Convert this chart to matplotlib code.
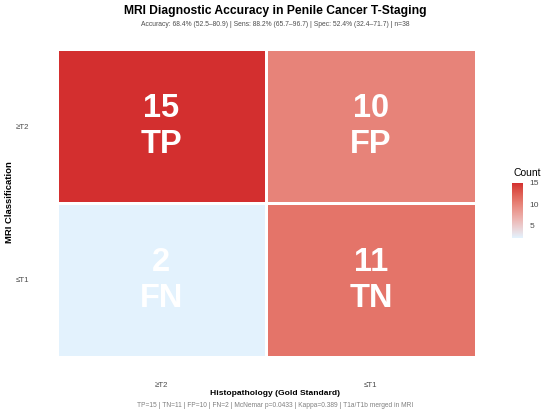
import numpy as np
import matplotlib
matplotlib.use('Agg')
import matplotlib.pyplot as plt
from matplotlib.colors import ListedColormap, Normalize

plt.rcParams['font.family'] = ['Liberation Sans', 'DejaVu Sans']

# confusion matrix data
mri_levels = ['≥T2', '≤T1']          # rows (top to bottom)
histo_levels = ['≥T2', '≤T1']        # columns
counts = [[15, 10],
          [2, 11]]
cell_tags = [['TP', 'FP'],
             ['FN', 'TN']]
title = 'MRI Diagnostic Accuracy in Penile Cancer T-Staging'
subtitle = 'Accuracy: 68.4% (52.5\u201380.9) | Sens: 88.2% (65.7\u201396.7) | Spec: 52.4% (32.4\u201371.7) | n=38'
caption = 'TP=15 | TN=11 | FP=10 | FN=2 | McNemar p=0.0433 | Kappa=0.389 | T1a/T1b merged in MRI'


# gradient low -> high interpolated in Lab, like ggplot's scale_fill_gradient
def hex2rgb(h):
	h = h.lstrip('#')
	return np.array([int(h[i:i+2], 16) / 255.0 for i in (0, 2, 4)])

M = np.array([[0.4124, 0.3576, 0.1805],
              [0.2126, 0.7152, 0.0722],
              [0.0193, 0.1192, 0.9505]])
WHITE = np.array([0.95047, 1.0, 1.08883])

def rgb2lab(c):
	lin = np.where(c <= 0.04045, c / 12.92, ((c + 0.055) / 1.055) ** 2.4)
	xyz = M.dot(lin) / WHITE
	f = np.where(xyz > 0.008856, np.cbrt(xyz), 7.787 * xyz + 16 / 116.0)
	return np.array([116 * f[1] - 16, 500 * (f[0] - f[1]), 200 * (f[1] - f[2])])

def lab2rgb(lab):
	fy = (lab[0] + 16) / 116.0
	fx = fy + lab[1] / 500.0
	fz = fy - lab[2] / 200.0
	f = np.array([fx, fy, fz])
	xyz = np.where(f > 0.206893, f ** 3, (f - 16 / 116.0) / 7.787) * WHITE
	lin = np.linalg.solve(M, xyz)
	c = np.where(lin <= 0.0031308, 12.92 * lin, 1.055 * np.clip(lin, 0, None) ** (1 / 2.4) - 0.055)
	return np.clip(c, 0, 1)

lo = rgb2lab(hex2rgb('#E3F2FD'))
hi = rgb2lab(hex2rgb('#D32F2F'))
cmap = ListedColormap([lab2rgb(lo + t * (hi - lo)) for t in np.linspace(0, 1, 256)])
vals = np.array(counts)
norm = Normalize(vmin=vals.min(), vmax=vals.max())

fig = plt.figure(figsize=(5.5, 4.13), dpi=100)
ax = fig.add_axes([0.103, 0.1363, 0.762, 0.7443])

ax.pcolormesh(np.arange(3), np.arange(3), vals, cmap=cmap, norm=norm,
	edgecolors='white', linewidth=2)
ax.set_xlim(0, 2)
ax.set_ylim(2, 0)
for i in range(2):
	for j in range(2):
		ax.text(j + 0.5, i + 0.5 - 0.112, str(counts[i][j]), ha='center', va='center',
			color='white', fontsize=23.5, fontweight='bold')
		ax.text(j + 0.5, i + 0.5 + 0.12, cell_tags[i][j], ha='center', va='center',
			color='white', fontsize=23.5, fontweight='bold')

ax.set_xticks([0.5, 1.5])
ax.set_xticklabels(histo_levels)
ax.set_yticks([0.5, 1.5])
ax.set_yticklabels(mri_levels)
ax.tick_params(length=0, labelsize=5.7, labelcolor='#4d4d4d', pad=20)
ax.tick_params(axis='x', pad=18)
for s in ax.spines.values():
	s.set_visible(False)

fig.text(0.5, 0.974, title, ha='center', va='center', fontsize=8.7, fontweight='bold')
fig.text(0.5, 0.941, subtitle, ha='center', va='center', fontsize=4.85, color='#4d4d4d')
fig.text(0.5, 0.048, 'Histopathology (Gold Standard)', ha='center', va='center',
	fontsize=6.1, fontweight='bold')
fig.text(0.5, 0.019, caption, ha='center', va='center', fontsize=4.8, color='#808080')
fig.text(0.018, 0.51, 'MRI Classification', ha='center', va='center', rotation=90,
	fontsize=6.8, fontweight='bold')

# colour bar
cax = fig.add_axes([0.931, 0.424, 0.02, 0.133])
cb = fig.colorbar(plt.cm.ScalarMappable(norm=norm, cmap=cmap), cax=cax, ticks=[5, 10, 15])
cb.outline.set_visible(False)
cb.ax.tick_params(length=2.5, width=0.6, color='white', labelsize=6, labelcolor='#4d4d4d', pad=2)
fig.text(0.933, 0.581, 'Count', ha='left', va='center', fontsize=7.5)

fig.savefig('out.png', dpi=100)
